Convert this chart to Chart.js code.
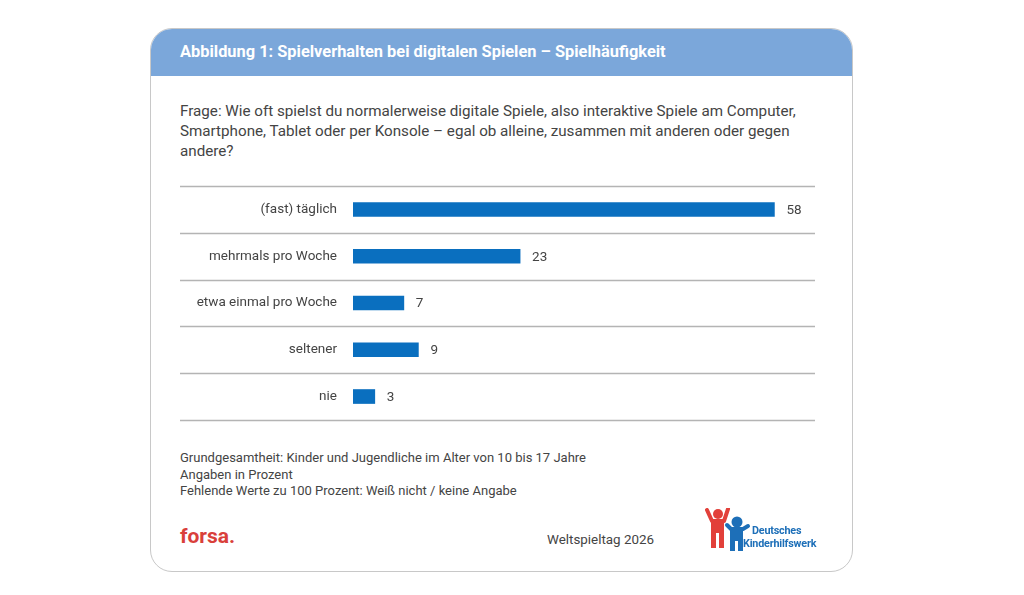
<!DOCTYPE html>
<html><head><meta charset="utf-8">
<script src="https://cdn.jsdelivr.net/npm/chart.js@4/dist/chart.umd.min.js"></script>
<style>
html,body{margin:0;padding:0;background:#fff;width:1024px;height:595px;overflow:hidden;font-family:Roboto,'Open Sans',sans-serif;}
#card{position:absolute;left:150px;top:28px;width:701px;height:542px;border:1px solid #c8c8c8;border-radius:22px;overflow:hidden;background:#fff;}
#head{position:absolute;left:0;top:0;width:100%;height:47px;background:#7ba7da;}
#title{position:absolute;left:29px;top:13px;color:#fff;font-weight:bold;font-size:16.4px;white-space:nowrap;}
#question{position:absolute;left:29px;top:72px;color:#444;font-size:15.2px;line-height:20px;white-space:nowrap;}
#foot{position:absolute;left:29px;top:421px;color:#444;font-size:13px;line-height:16.6px;white-space:nowrap;}
#forsa{position:absolute;left:29px;top:495px;color:#d9403a;font-weight:bold;font-size:21px;}
#wst{position:absolute;left:396px;top:503px;color:#444;font-size:13.4px;}
#dkhw{position:absolute;left:592px;top:496px;color:#1d6fb8;font-weight:bold;font-size:10.8px;line-height:12.5px;white-space:nowrap;letter-spacing:-0.2px;}
#dkhw span{padding-left:9px;}
#logo{position:absolute;left:554px;top:479px;}
#wrap{position:absolute;left:180px;top:162px;width:640px;height:282px;}
</style></head>
<body>
<div id="card">
  <div id="head"><div id="title">Abbildung 1: Spielverhalten bei digitalen Spielen – Spielhäufigkeit</div></div>
  <div id="question">Frage: Wie oft spielst du normalerweise digitale Spiele, also interaktive Spiele am Computer,<br>Smartphone, Tablet oder per Konsole – egal ob alleine, zusammen mit anderen oder gegen<br>andere?</div>
  <div id="foot">Grundgesamtheit: Kinder und Jugendliche im Alter von 10 bis 17 Jahre<br>Angaben in Prozent<br>Fehlende Werte zu 100 Prozent: Weiß nicht / keine Angabe</div>
  <div id="forsa">forsa.</div>
  <div id="wst">Weltspieltag 2026</div>
  <canvas id="logo" width="46" height="44"></canvas>
  <div id="dkhw"><span>Deutsches</span><br>Kinderhilfswerk</div>
</div>
<div id="wrap"><canvas id="c"></canvas></div>
<script>
const categories = ["(fast) täglich", "mehrmals pro Woche", "etwa einmal pro Woche", "seltener", "nie"];
const values = [58, 23, 7, 9, 3];
const xMax = 64;

// simple logo figures
(function(){
  const g = document.getElementById('logo').getContext('2d');
  g.lineCap = 'round'; g.lineJoin = 'round';
  g.fillStyle = '#e2403a'; g.strokeStyle = '#e2403a';
  g.beginPath(); g.arc(13,6,5,0,Math.PI*2); g.fill();
  g.lineWidth = 4;
  g.beginPath(); g.moveTo(2,2); g.lineTo(7,13); g.lineTo(19,13); g.lineTo(23,1); g.stroke();
  g.fillRect(6,12,13,13);
  g.fillRect(6,25,5,15); g.fillRect(14,25,5,15);
  g.fillStyle = '#1d6fb8'; g.strokeStyle = '#1d6fb8';
  g.beginPath(); g.arc(32,14,5.5,0,Math.PI*2); g.fill();
  g.lineWidth = 4;
  g.beginPath(); g.moveTo(22,17); g.lineTo(26,21); g.lineTo(38,21); g.lineTo(43,18); g.stroke();
  g.fillRect(25,20,13,13);
  g.fillRect(25,33,5,10); g.fillRect(33,33,5,10);
})();

const sepLines = {
  id: 'sepLines',
  beforeDatasetsDraw(chart) {
    const y = chart.scales.y, ctx = chart.ctx;
    const n = categories.length;
    const step = (y.getPixelForValue(n-1) - y.getPixelForValue(0)) / (n-1);
    ctx.save();
    ctx.strokeStyle = '#b4b4b4';
    ctx.lineWidth = 1.5;
    for (let i = 0; i <= n; i++) {
      const py = Math.round(y.getPixelForValue(0) - step/2 + i*step) + 0.5;
      ctx.beginPath(); ctx.moveTo(0, py); ctx.lineTo(635, py); ctx.stroke();
    }
    ctx.restore();
  }
};
const valueLabels = {
  id: 'valueLabels',
  afterDatasetsDraw(chart) {
    const ctx = chart.ctx, meta = chart.getDatasetMeta(0);
    ctx.save();
    ctx.fillStyle = '#444';
    ctx.font = '13.5px Roboto, "Open Sans", sans-serif';
    ctx.textBaseline = 'middle';
    meta.data.forEach((bar, i) => {
      ctx.fillText(String(values[i]), bar.x + 12, bar.y + 1);
    });
    ctx.restore();
  }
};

new Chart(document.getElementById('c'), {
  type: 'bar',
  data: { labels: categories, datasets: [{ data: values, backgroundColor: '#0a6fbf', barThickness: 14, borderWidth: 0 }] },
  options: {
    indexAxis: 'y',
    responsive: true,
    maintainAspectRatio: false,
    animation: false,
    layout: { padding: { top: 0, bottom: 0, right: 2, left: 0 } },
    plugins: { legend: { display: false }, tooltip: { enabled: false } },
    scales: {
      x: { min: 0, max: xMax, display: false },
      y: {
        grid: { display: false, drawTicks: false },
        border: { display: false },
        ticks: { color: '#444', padding: 16, font: { family: 'Roboto, "Open Sans", sans-serif', size: 13.5 } },
        afterFit(scale) { scale.width = 173; }
      }
    }
  },
  plugins: [sepLines, valueLabels]
});
</script>
</body></html>
